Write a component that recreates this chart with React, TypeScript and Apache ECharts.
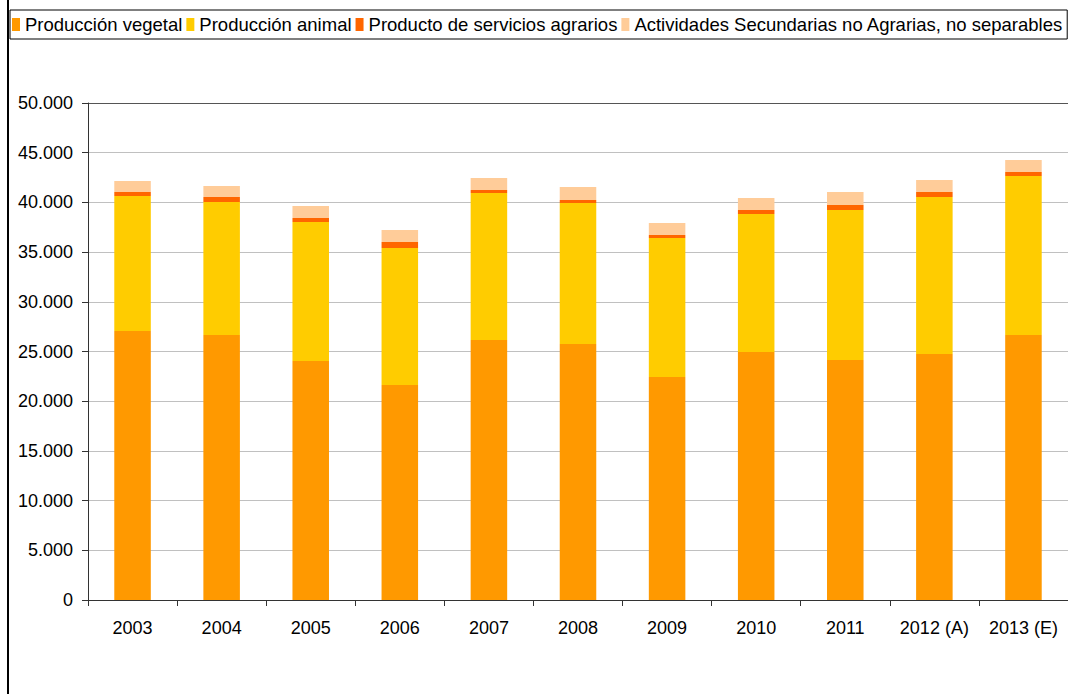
import React, { useEffect, useRef } from "react";
import * as echarts from "echarts";

const categories = ["2003", "2004", "2005", "2006", "2007", "2008", "2009", "2010", "2011", "2012 (A)", "2013 (E)"];
const seriesNames = [
  "Producción vegetal",
  "Producción animal",
  "Producto de servicios agrarios",
  "Actividades Secundarias no Agrarias, no separables",
];
const vegetal = [27060, 26660, 24040, 21630, 26160, 25750, 22430, 24950, 24140, 24750, 26660];
const animal = [13580, 13380, 13990, 13780, 14790, 14190, 13990, 13880, 15100, 15790, 16000];
const servicios = [410, 500, 400, 610, 300, 300, 300, 410, 500, 510, 400];
const secundarias = [1100, 1110, 1210, 1200, 1200, 1310, 1210, 1200, 1310, 1200, 1210];
const yTicks = { min: 0, max: 50000, interval: 5000 };

const colors = ["#FF9900", "#FFCC00", "#FF6600", "#FFCC99"];
const FONT = 'Arial, "Liberation Sans", sans-serif';

export default function App() {
  const ref = useRef<HTMLDivElement>(null);
  useEffect(() => {
    if (!ref.current) return;
    const chart = echarts.init(ref.current, undefined, { renderer: "svg" });
    const data = [vegetal, animal, servicios, secundarias];
    const gridColors = Array.from({ length: 11 }, (_, i) => (i === 10 ? "#555555" : "#c0c0c0"));
    chart.setOption({
      animation: false,
      backgroundColor: "#ffffff",
      textStyle: { fontFamily: FONT, color: "#000" },
      legend: {
        left: 10,
        top: 10,
        padding: [5, 4, 5, 2],
        itemGap: 4,
        itemWidth: 8,
        itemHeight: 13,
        icon: "rect",
        borderColor: "#000",
        borderWidth: 1,
        textStyle: { fontSize: 18.5, fontFamily: FONT, color: "#000" },
        data: seriesNames,
      },
      grid: { left: 88, top: 103, width: 985, height: 497, containLabel: false },
      xAxis: {
        type: "category",
        data: categories,
        boundaryGap: true,
        axisLine: { show: true, lineStyle: { color: "#333", width: 1 } },
        axisTick: { show: true, alignWithLabel: false, length: 6, lineStyle: { color: "#333" } },
        axisLabel: { fontSize: 18, color: "#000", margin: 19, fontFamily: FONT, interval: 0 },
      },
      yAxis: {
        type: "value",
        min: yTicks.min,
        max: yTicks.max,
        interval: yTicks.interval,
        axisLine: { show: true, lineStyle: { color: "#333", width: 1 } },
        axisTick: { show: true, length: 6, lineStyle: { color: "#333" } },
        axisLabel: {
          fontSize: 18,
          color: "#000",
          margin: 15,
          fontFamily: FONT,
          formatter: (v: number) => (v === 0 ? "0" : v.toLocaleString("de-DE")),
        },
        splitLine: { show: true, lineStyle: { color: gridColors, width: 1 } },
      },
      graphic: [
        {
          type: "line",
          shape: { x1: 8, y1: 0, x2: 8, y2: 694 },
          style: { stroke: "#000", lineWidth: 2 },
          silent: true,
        },
      ],
      series: seriesNames.map((name, i) => ({
        name,
        type: "bar",
        stack: "total",
        barWidth: "41%",
        itemStyle: { color: colors[i] },
        data: data[i],
      })),
    });
    return () => chart.dispose();
  }, []);
  return (
    <div
      ref={ref}
      style={{ position: "fixed", left: 0, top: 0, width: 1068, height: 694, background: "#fff" }}
    />
  );
}
